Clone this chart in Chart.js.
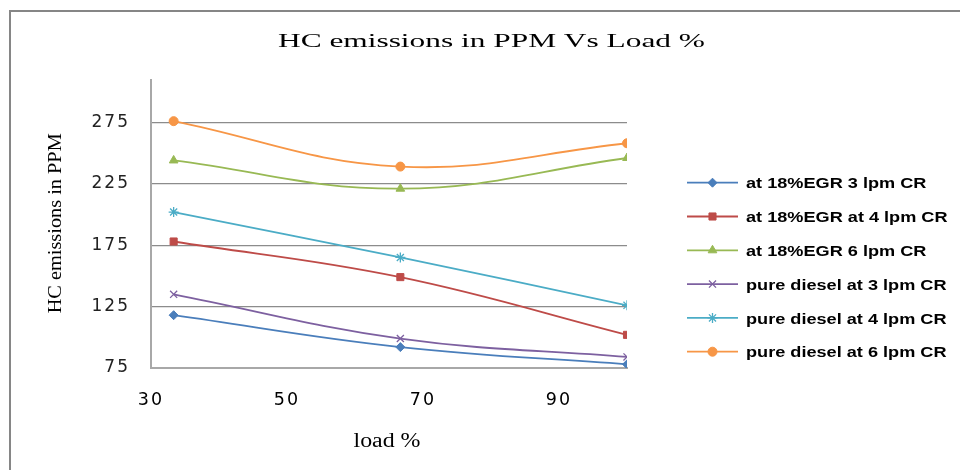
<!DOCTYPE html>
<html>
<head>
<meta charset="utf-8">
<script src="https://cdn.jsdelivr.net/npm/chart.js@4/dist/chart.umd.min.js"></script>
<style>
  html, body { margin: 0; padding: 0; background: #fff; }
  #wrap { width: 960px; height: 470px; position: relative; }
</style>
</head>
<body>
<div id="wrap"><canvas id="c" width="960" height="470"></canvas></div>
<script>
// ---- data ----
const loadPct = [33.33, 66.67, 100];
const seriesNames = [
  "at 18%EGR 3 lpm CR",
  "at 18%EGR at 4 lpm CR",
  "at 18%EGR 6 lpm CR",
  "pure diesel at 3 lpm CR",
  "pure diesel at 4 lpm CR",
  "pure diesel at 6 lpm CR"
];
const egr3 = [118, 92, 78];
const egr4 = [178, 149, 102];
const egr6 = [244, 221, 246];
const diesel3 = [135, 99, 84];
const diesel4 = [202, 165, 126];
const diesel6 = [276, 239, 258];
const yTicks = [75, 125, 175, 225, 275];
const xTicks = [30, 50, 70, 90];

const chartTitle = "HC emissions in PPM Vs Load %";
const yTitle = "HC emissions in PPM";
const xTitle = "load %";

// ---- styles ----
const colors = ["#4A7EBB", "#BE4B48", "#98B954", "#7D60A0", "#4BACC6", "#F79646"];
const styles = ["rectRot", "rect", "triangle", "crossRot", "star", "circle"];
const radii = [4.5, 5, 5, 5, 5, 4.5];
const allValues = [egr3, egr4, egr6, diesel3, diesel4, diesel6];

const datasets = allValues.map((vals, i) => ({
  label: seriesNames[i],
  data: vals.map((v, j) => ({ x: loadPct[j], y: v })),
  borderColor: colors[i],
  backgroundColor: colors[i],
  borderWidth: 1.8,
  pointStyle: styles[i],
  pointRadius: radii[i],
  pointBorderWidth: (styles[i] === "crossRot" || styles[i] === "star") ? 1.3 : 1,
  pointBackgroundColor: colors[i],
  pointBorderColor: colors[i],
  tension: 0.4,
  fill: false
}));

function drawStretchedText(ctx, text, x, y, font, targetWidth, align, rotate) {
  ctx.save();
  ctx.font = font;
  ctx.fillStyle = "#000";
  ctx.textBaseline = "alphabetic";
  ctx.textAlign = "left";
  const w = ctx.measureText(text).width;
  const sx = targetWidth ? targetWidth / w : 1;
  ctx.translate(x, y);
  if (rotate) ctx.rotate(rotate);
  ctx.scale(sx, 1);
  let ox = 0;
  if (align === "center") ox = -w / 2;
  ctx.fillText(text, ox, 0);
  ctx.restore();
}

function drawMarker(ctx, style, r, x, y, color) {
  ctx.save();
  ctx.fillStyle = color;
  ctx.strokeStyle = color;
  ctx.lineWidth = (style === "crossRot" || style === "star") ? 1.3 : 1;
  if (Chart.helpers && Chart.helpers.drawPoint) {
    Chart.helpers.drawPoint(ctx, { pointStyle: style, radius: r, rotation: 0, borderWidth: ctx.lineWidth }, x, y);
  } else {
    ctx.beginPath(); ctx.arc(x, y, r, 0, Math.PI * 2); ctx.fill();
  }
  ctx.restore();
}

const decor = {
  id: "decor",
  beforeDraw(chart) {
    const ctx = chart.ctx;
    ctx.save();
    ctx.fillStyle = "#fff";
    ctx.fillRect(0, 0, chart.width, chart.height);
    ctx.restore();
    try { ctx.letterSpacing = "2px"; } catch (e) {}
  },
  afterDraw(chart) {
    const ctx = chart.ctx;
    try { ctx.letterSpacing = "0px"; } catch (e) {}
    // outer border
    ctx.save();
    ctx.strokeStyle = "#868686";
    ctx.lineWidth = 2;
    ctx.beginPath();
    ctx.moveTo(10, 470);
    ctx.lineTo(10, 11);
    ctx.lineTo(960, 11);
    ctx.stroke();
    ctx.restore();

    const area = chart.chartArea;
    // title
    drawStretchedText(ctx, chartTitle, 491.5, 46.5, "18px 'Liberation Serif'", 427, "center");
    // x title
    drawStretchedText(ctx, xTitle, (area.left + area.right) / 2 - 2, 446.5, "20px 'Liberation Serif'", 67, "center");
    // y title
    drawStretchedText(ctx, yTitle, 60.5, 223.3, "18px 'Liberation Serif'", 180, "center", -Math.PI / 2);

    // legend
    const x0 = 687, x1 = 738, tx = 746;
    const rowY0 = 182.7, step = 33.8;
    chart.data.datasets.forEach((ds, i) => {
      const y = rowY0 + i * step;
      ctx.save();
      ctx.strokeStyle = ds.borderColor;
      ctx.lineWidth = 1.8;
      ctx.beginPath();
      ctx.moveTo(x0, y);
      ctx.lineTo(x1, y);
      ctx.stroke();
      ctx.restore();
      drawMarker(ctx, ds.pointStyle, ds.pointRadius, (x0 + x1) / 2, y, ds.borderColor);
      ctx.save();
      ctx.font = "bold 15.5px 'Liberation Sans'";
      ctx.fillStyle = "#000";
      ctx.textBaseline = "alphabetic";
      ctx.translate(tx, y + 5.7);
      ctx.scale(1.17, 1);
      ctx.fillText(ds.label, 0, 0);
      ctx.restore();
    });
  }
};

new Chart(document.getElementById("c"), {
  type: "line",
  data: { datasets },
  options: {
    responsive: false,
    animation: false,
    devicePixelRatio: 1,
    layout: { padding: { left: 0, top: 80, right: 333, bottom: 0 } },
    plugins: {
      legend: { display: false },
      title: { display: false },
      tooltip: { enabled: false }
    },
    scales: {
      x: {
        type: "linear",
        min: 30,
        max: 100,
        afterBuildTicks: s => { s.ticks = xTicks.map(v => ({ value: v })); },
        afterFit: s => { s.height = 102; },
        grid: { display: false, drawTicks: false },
        border: { display: true, color: "#A8A8A8", width: 2 },
        ticks: {
          padding: 22,
          color: "#000",
          font: { family: "'DejaVu Sans'", size: 17.5 },
          maxRotation: 0,
          autoSkip: false
        }
      },
      y: {
        type: "linear",
        min: 75,
        max: 309.5,
        afterBuildTicks: s => { s.ticks = yTicks.map(v => ({ value: v })); },
        afterFit: s => { s.width = 151; },
        grid: {
          drawTicks: false,
          color: ctx => (ctx.tick && ctx.tick.value === 75) ? "rgba(0,0,0,0)" : "#8C8C8C",
          lineWidth: 1.3
        },
        border: { display: true, color: "#A8A8A8", width: 2 },
        ticks: {
          padding: 21,
          color: "#222",
          font: { family: "'DejaVu Sans'", size: 17 }
        }
      }
    }
  },
  plugins: [decor]
});
</script>
</body>
</html>
